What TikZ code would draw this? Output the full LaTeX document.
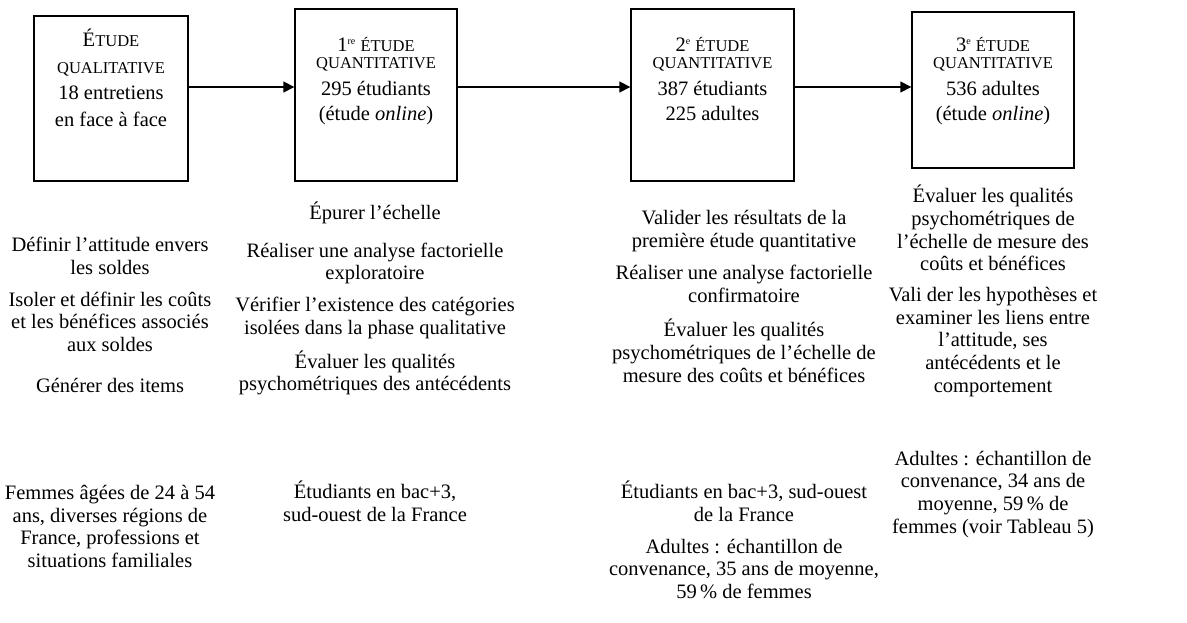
\documentclass[tikz,border=0pt]{standalone}
\usepackage{fontspec}
\setmainfont{Liberation Serif}
\usetikzlibrary{positioning,arrows.meta}

\newcommand{\petit}[1]{{\fontsize{16.5}{18}\selectfont #1}}
\newcommand{\expo}[1]{\raisebox{7pt}{\fontsize{10}{10}\selectfont #1}}
\newcommand{\etai}{\rule[-6pt]{0pt}{24pt}}

\begin{document}
\begin{tikzpicture}[x=1pt,y=1pt,
    font=\fontsize{20.5}{22.7}\selectfont,
    etape/.style={draw,line width=1.4pt,inner sep=0pt},
    titre/.style={anchor=north,align=center,inner sep=0pt,font=\fontsize{20.5}{26.5}\selectfont,
        execute at begin node=\etai},
    objectif/.style={anchor=north,align=center,inner sep=0pt,
        execute at begin node=\etai,execute at end node=\etai},
    fleche/.style={line width=1.6pt,-{Triangle[length=11pt,width=11pt]}}]
\useasboundingbox (0,0) rectangle (1187,-623);

% les quatre etudes
\node[etape,minimum width=154,minimum height=165] (qual) at (111,-98.5) {};
\node[etape,minimum width=162,minimum height=172] (quant1) at (376,-95) {};
\node[etape,minimum width=163,minimum height=172] (quant2) at (712.5,-95) {};
\node[etape,minimum width=162,minimum height=156] (quant3) at (993,-90) {};

\node[titre] (tqual) at (qual.center |- 0,-29) {É\petit{TUDE}\\\petit{QUALITATIVE}\\18 entretiens\\en face à face};
\node[titre] (tquant1) at (quant1.center |- 0,-37) {1\expo{re} \petit{ÉTUDE}\\[-9pt]\petit{QUANTITATIVE}\\295 étudiants\\[-1pt](étude \textit{online})};
\node[titre] (tquant2) at (quant2.center |- 0,-37) {2\expo{e} \petit{ÉTUDE}\\[-9pt]\petit{QUANTITATIVE}\\387 étudiants\\[-1pt]225 adultes};
\node[titre] (tquant3) at (quant3.center |- 0,-37) {3\expo{e} \petit{ÉTUDE}\\[-9pt]\petit{QUANTITATIVE}\\536 adultes\\[-1pt](étude \textit{online})};

\coordinate (axe) at (0,-87);
\draw[fleche] (qual.east |- axe) -- (quant1.west |- axe);
\draw[fleche] (quant1.east |- axe) -- (quant2.west |- axe);
\draw[fleche] (quant2.east |- axe) -- (quant3.west |- axe);

% objectifs
\node[objectif] (def) at (110,-237) {Définir l’attitude envers\\les soldes};
\node[objectif,below=11 of def] (iso) {Isoler et définir les coûts\\et les bénéfices associés\\aux soldes};
\node[objectif,below=17 of iso] (gen) {Générer des items};

\node[objectif] (epu) at (375,-201) {Épurer l’échelle};
\node[objectif,below=17 of epu] (afe) {Réaliser une analyse factorielle\\exploratoire};
\node[objectif,below=11 of afe] (ver) {Vérifier l’existence des catégories\\isolées dans la phase qualitative};
\node[objectif,below=10 of ver] (eva1) {Évaluer les qualités\\psychométriques des antécédents};

\node[objectif] (val) at (744,-210) {Valider les résultats de la\\première étude quantitative};
\node[objectif,below=12 of val] (afc) {Réaliser une analyse factorielle\\confirmatoire};
\node[objectif,below=10 of afc] (eva2) {Évaluer les qualités\\psychométriques de l’échelle de\\mesure des coûts et bénéfices};

\node[objectif] (eva3) at (993,-185) {Évaluer les qualités\\psychométriques de\\l’échelle de mesure des\\coûts et bénéfices};
\node[objectif,below=10 of eva3] (hyp) {Vali der les hypothèses et\\examiner les liens entre\\l’attitude, ses\\antécédents et le\\comportement};

% echantillons
\node[objectif] (fem) at (110,-485) {Femmes âgées de 24 à 54\\ans, diverses régions de\\France, professions et\\situations familiales};
\node[objectif] (etu1) at (375,-481) {Étudiants en bac+3,\\sud-ouest de la France};
\node[objectif] (etu2) at (744,-481) {Étudiants en bac+3, sud-ouest\\de la France};
\node[objectif,below=11 of etu2] (adu2) {Adultes : échantillon de\\convenance, 35 ans de moyenne,\\59\,\% de femmes};
\node[objectif,below=52 of hyp] (adu3) {Adultes : échantillon de\\convenance, 34 ans de\\moyenne, 59\,\% de\\femmes (voir Tableau 5)};
\end{tikzpicture}
\end{document}
